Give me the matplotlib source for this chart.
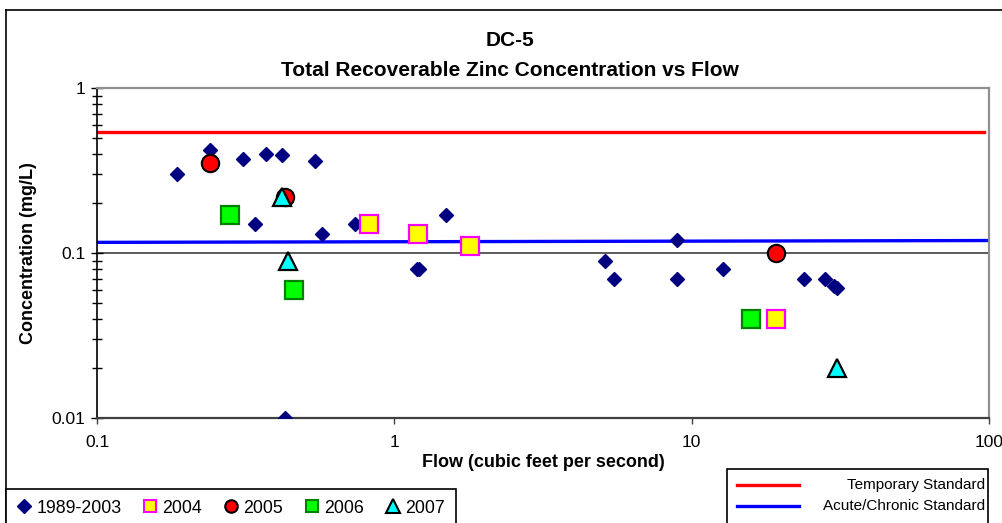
import matplotlib
matplotlib.use('Agg')
import matplotlib.pyplot as plt
from matplotlib.lines import Line2D
from matplotlib.patches import Rectangle

plt.rcParams['font.family'] = ['Liberation Sans', 'DejaVu Sans']

# 1989-2003 samples (flow cfs, zinc mg/L)
flow_8903 = [0.186, 0.24, 0.31, 0.37, 0.42, 0.54, 0.34, 0.57, 0.74, 1.49, 1.19, 1.21, 0.43,
             5.1, 5.5, 8.9, 8.9, 12.7, 23.9, 28.1, 30.2, 30.8]
zinc_8903 = [0.30, 0.42, 0.37, 0.40, 0.39, 0.36, 0.15, 0.13, 0.15, 0.17, 0.08, 0.08, 0.01,
             0.09, 0.07, 0.12, 0.07, 0.08, 0.07, 0.07, 0.063, 0.061]

flow_2004 = [0.82, 1.2, 1.8, 19.2]
zinc_2004 = [0.15, 0.13, 0.11, 0.04]

flow_2005 = [0.24, 0.43, 19.2]
zinc_2005 = [0.35, 0.22, 0.10]

flow_2006 = [0.28, 0.46, 15.8]
zinc_2006 = [0.17, 0.06, 0.04]

flow_2007 = [0.42, 0.44, 30.8]
zinc_2007 = [0.22, 0.09, 0.02]

# standards
temp_flow = [0.1, 96.5]
temp_std = [0.54, 0.54]
acute_flow = [0.1, 100]
acute_std = [0.116, 0.119]

W, H = 1003, 523
fig = plt.figure(figsize=(W / 100, H / 100), dpi=100)

def fx(px):
    return px / W

def fy(py):
    return 1 - py / H

ax = fig.add_axes([fx(97), fy(418), fx(989) - fx(97), fy(88) - fy(418)])
ax.set_xscale('log')
ax.set_yscale('log')
ax.set_xlim(0.1, 100)
ax.set_ylim(0.01, 1)

# gridline at 0.1
ax.axhline(0.1, color='#404040', lw=1.2, zorder=1)

ax.plot(temp_flow, temp_std, color='#ff0000', lw=2.4, zorder=2)
ax.plot(acute_flow, acute_std, color='#0000ff', lw=2.4, zorder=2)

ax.plot(flow_8903, zinc_8903, 'D', ms=7.2, color='#000080', mec='#000080', ls='none', zorder=3)
ax.plot(flow_2004, zinc_2004, 's', ms=12.5, mfc='#ffff00', mec='#ff00ff', mew=1.6, ls='none', zorder=4)
ax.plot(flow_2005, zinc_2005, 'o', ms=12.5, mfc='#ff0000', mec='black', mew=1.5, ls='none', zorder=5)
ax.plot(flow_2006, zinc_2006, 's', ms=12.5, mfc='#00ff00', mec='#008000', mew=1.6, ls='none', zorder=6)
ax.plot(flow_2007, zinc_2007, '^', ms=13.5, mfc='#00ffff', mec='black', mew=1.6, ls='none', zorder=7)

ax.set_xticks([0.1, 1, 10, 100])
ax.set_xticklabels(['0.1', '1', '10', '100'])
ax.set_yticks([0.01, 0.1, 1])
ax.set_yticklabels(['0.01', '0.1', '1'])
ax.xaxis.set_minor_locator(matplotlib.ticker.NullLocator())
ax.yaxis.set_minor_locator(matplotlib.ticker.LogLocator(base=10, subs=range(2, 10)))
ax.yaxis.set_minor_formatter(matplotlib.ticker.NullFormatter())
ax.tick_params(axis='x', which='major', direction='out', length=4, width=1, labelsize=12.5, pad=8, colors='#404040', labelcolor='black')
ax.tick_params(axis='y', which='major', direction='inout', length=9, width=1, labelsize=12.5, pad=4)
ax.tick_params(axis='y', which='minor', direction='inout', length=7, width=1)

for s in ['top', 'right']:
    ax.spines[s].set_color('#909090')
    ax.spines[s].set_linewidth(1.6)
ax.spines['left'].set_color('black')
ax.spines['left'].set_linewidth(1.2)
ax.spines['bottom'].set_color('#404040')
ax.spines['bottom'].set_linewidth(1.6)

ax.set_xlabel('Flow (cubic feet per second)', fontsize=13, fontweight='bold', labelpad=3)
ax.set_ylabel('Concentration (mg/L)', fontsize=13, fontweight='bold', labelpad=10)

fig.text(fx(510), fy(40), 'DC-5', ha='center', va='center', fontsize=15, fontweight='bold')
fig.text(fx(510), fy(70), 'Total Recoverable Zinc Concentration vs Flow', ha='center', va='center',
         fontsize=15, fontweight='bold')

# outer chart frame
fig.add_artist(Line2D([fx(6), fx(6)], [fy(10), 0], transform=fig.transFigure, color='black', lw=1.2))
fig.add_artist(Line2D([fx(6), 1], [fy(10), fy(10)], transform=fig.transFigure, color='black', lw=1.2))

# year legend
handles = [
    Line2D([], [], marker='D', ls='none', ms=7.5, color='#000080'),
    Line2D([], [], marker='s', ls='none', ms=8.5, mfc='#ffff00', mec='#ff00ff', mew=1.5),
    Line2D([], [], marker='o', ls='none', ms=9, mfc='#ff0000', mec='black', mew=1.5),
    Line2D([], [], marker='s', ls='none', ms=8.5, mfc='#00ff00', mec='#008000', mew=1.5),
    Line2D([], [], marker='^', ls='none', ms=9.5, mfc='#00ffff', mec='black', mew=1.5),
]
labels = ['1989-2003', '2004', '2005', '2006', '2007']
leg = fig.legend(handles, labels, loc='upper left', ncol=5, mode='expand',
                 bbox_to_anchor=(fx(6), 0, fx(456) - fx(6), fy(489)), borderaxespad=0,
                 frameon=True, fancybox=False, edgecolor='black', framealpha=1,
                 fontsize=12.8, handlelength=0.8, handletextpad=0.3, columnspacing=1.2,
                 borderpad=0.6)
leg.get_frame().set_linewidth(1.2)

# standards legend
fig.add_artist(Rectangle((fx(727), fy(535)), fx(988) - fx(727), fy(469) - fy(535),
                         transform=fig.transFigure, fill=False, edgecolor='black', lw=1.2))
fig.add_artist(Line2D([fx(737), fx(799)], [fy(485), fy(485)], transform=fig.transFigure,
                      color='#ff0000', lw=2.4))
fig.add_artist(Line2D([fx(737), fx(799)], [fy(506), fy(506)], transform=fig.transFigure,
                      color='#0000ff', lw=2.4))
fig.text(fx(985), fy(485), 'Temporary Standard', ha='right', va='center', fontsize=11)
fig.text(fx(985), fy(506), 'Acute/Chronic Standard', ha='right', va='center', fontsize=11)

fig.savefig('out.png', dpi=100)
